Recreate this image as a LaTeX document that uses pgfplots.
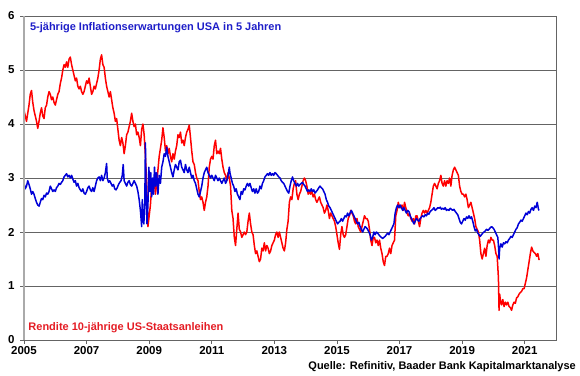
\documentclass[border=0pt]{standalone}
\usepackage{pgfplots}
\pgfplotsset{compat=1.18}
\usepackage{fontspec}
\setmainfont{Liberation Sans}
\definecolor{lred}{RGB}{255,0,0}
\definecolor{lblue}{RGB}{0,0,215}
\definecolor{tred}{RGB}{228,28,36}
\definecolor{tblue}{RGB}{30,30,200}
\definecolor{gridc}{RGB}{100,100,100}
\definecolor{axl}{RGB}{170,170,170}
\begin{document}
\begin{tikzpicture}[x=1pt,y=1pt]
\useasboundingbox (0,0) rectangle (580,375);
\begin{axis}[
  at={(24pt,35pt)}, anchor=origin,
  scale only axis, width=532pt, height=324pt,
  xmin=2005, xmax=2022, ymin=0, ymax=6,
  xtick={2005,2007,...,2021},
  xticklabels={2005,2007,2009,2011,2013,2015,2017,2019,2021},
  ytick={0,1,...,6},
  ymajorgrids, grid style={gridc, line width=0.8pt},
  axis line style={gridc, line width=0.8pt},
  tick style={gridc, line width=0.8pt},
  tick align=outside, major tick length=4pt,
  xtick pos=bottom, ytick pos=left,
  /pgf/number format/assume math mode=true,
  ticklabel style={font=\fontsize{11.5}{13}\selectfont\bfseries},
  xticklabel style={yshift=1pt},
  yticklabel style={xshift=-2pt},
  clip=true,
]
\addplot[lred, line width=1.5pt, line join=round] coordinates {
(2005.00,4.25)(2005.04,4.15)(2005.08,4.05)(2005.12,4.20)(2005.16,4.35)(2005.20,4.55)(2005.24,4.62)(2005.28,4.40)(2005.32,4.25)(2005.36,4.15)
(2005.40,4.05)(2005.44,3.92)(2005.48,4.05)(2005.52,4.20)(2005.56,4.30)(2005.60,4.15)(2005.64,4.10)(2005.68,4.30)(2005.72,4.35)(2005.76,4.50)
(2005.80,4.60)(2005.84,4.55)(2005.88,4.45)(2005.92,4.50)(2005.96,4.40)(2006.00,4.35)(2006.04,4.45)(2006.08,4.55)(2006.12,4.60)(2006.16,4.75)
(2006.20,4.85)(2006.24,5.00)(2006.28,5.10)(2006.32,5.05)(2006.36,5.15)(2006.40,5.05)(2006.44,5.20)(2006.48,5.24)(2006.52,5.10)(2006.56,5.00)
(2006.60,4.90)(2006.64,4.80)(2006.68,4.85)(2006.72,4.70)(2006.76,4.65)(2006.80,4.70)(2006.84,4.60)(2006.88,4.55)(2006.92,4.60)(2006.96,4.70)
(2007.00,4.80)(2007.04,4.75)(2007.08,4.85)(2007.12,4.70)(2007.16,4.55)(2007.20,4.60)(2007.24,4.70)(2007.28,4.65)(2007.32,4.75)(2007.36,4.85)
(2007.40,5.00)(2007.44,5.20)(2007.48,5.28)(2007.52,5.10)(2007.56,5.05)(2007.60,4.85)(2007.64,4.70)(2007.68,4.60)(2007.72,4.50)(2007.76,4.60)
(2007.80,4.45)(2007.84,4.30)(2007.88,4.20)(2007.92,4.05)(2007.96,4.10)(2008.00,3.90)(2008.04,3.70)(2008.08,3.60)(2008.12,3.75)(2008.16,3.65)
(2008.20,3.45)(2008.24,3.60)(2008.28,3.80)(2008.32,3.85)(2008.36,3.95)(2008.40,4.05)(2008.44,4.20)(2008.48,4.05)(2008.52,3.95)(2008.56,4.00)
(2008.60,3.80)(2008.64,3.85)(2008.68,3.75)(2008.72,3.60)(2008.76,3.90)(2008.80,4.00)(2008.84,3.80)(2008.88,3.40)(2008.92,2.90)(2008.96,2.10)
(2009.00,2.30)(2009.04,2.50)(2009.08,2.85)(2009.12,2.75)(2009.16,3.00)(2009.20,2.70)(2009.24,2.90)(2009.28,3.15)(2009.32,3.40)(2009.36,3.55)
(2009.40,3.70)(2009.44,3.93)(2009.48,3.75)(2009.52,3.50)(2009.56,3.60)(2009.60,3.45)(2009.64,3.55)(2009.68,3.40)(2009.72,3.30)(2009.76,3.45)
(2009.80,3.35)(2009.84,3.50)(2009.88,3.60)(2009.92,3.80)(2009.96,3.75)(2010.00,3.85)(2010.04,3.65)(2010.08,3.70)(2010.12,3.60)(2010.16,3.75)
(2010.20,3.85)(2010.24,3.90)(2010.28,3.98)(2010.32,3.75)(2010.36,3.50)(2010.40,3.30)(2010.44,3.25)(2010.48,3.10)(2010.52,3.00)(2010.56,2.95)
(2010.60,2.75)(2010.64,2.60)(2010.68,2.65)(2010.72,2.55)(2010.76,2.40)(2010.80,2.55)(2010.84,2.65)(2010.88,2.85)(2010.92,3.20)(2010.96,3.35)
(2011.00,3.40)(2011.04,3.35)(2011.08,3.60)(2011.12,3.70)(2011.16,3.45)(2011.20,3.50)(2011.24,3.45)(2011.28,3.55)(2011.32,3.35)(2011.36,3.20)
(2011.40,3.10)(2011.44,3.05)(2011.48,2.95)(2011.52,3.10)(2011.56,3.00)(2011.60,2.85)(2011.64,2.40)(2011.68,2.25)(2011.72,1.90)(2011.76,1.75)
(2011.80,2.05)(2011.84,2.35)(2011.88,2.05)(2011.92,2.00)(2011.96,1.90)(2012.00,1.95)(2012.04,2.00)(2012.08,1.95)(2012.12,2.00)(2012.16,2.20)
(2012.20,2.35)(2012.24,2.15)(2012.28,2.00)(2012.32,1.95)(2012.36,1.75)(2012.40,1.60)(2012.44,1.65)(2012.48,1.55)(2012.52,1.45)(2012.56,1.50)
(2012.60,1.70)(2012.64,1.65)(2012.68,1.80)(2012.72,1.65)(2012.76,1.75)(2012.80,1.70)(2012.84,1.60)(2012.88,1.65)(2012.92,1.75)(2012.96,1.80)
(2013.00,1.85)(2013.04,1.95)(2013.08,2.00)(2013.12,1.90)(2013.16,2.00)(2013.20,1.90)(2013.24,1.80)(2013.28,1.70)(2013.32,1.65)(2013.36,1.80)
(2013.40,2.05)(2013.44,2.20)(2013.48,2.55)(2013.52,2.65)(2013.56,2.60)(2013.60,2.80)(2013.64,2.90)(2013.68,2.95)(2013.72,2.70)(2013.76,2.60)
(2013.80,2.70)(2013.84,2.75)(2013.88,2.85)(2013.92,2.95)(2013.96,3.00)(2014.00,2.95)(2014.04,2.85)(2014.08,2.70)(2014.12,2.75)(2014.16,2.70)
(2014.20,2.75)(2014.24,2.65)(2014.28,2.70)(2014.32,2.60)(2014.36,2.55)(2014.40,2.60)(2014.44,2.65)(2014.48,2.55)(2014.52,2.50)(2014.56,2.45)
(2014.60,2.35)(2014.64,2.40)(2014.68,2.50)(2014.72,2.40)(2014.76,2.25)(2014.80,2.35)(2014.84,2.30)(2014.88,2.25)(2014.92,2.20)(2014.96,2.10)
(2015.00,1.95)(2015.04,1.80)(2015.08,1.68)(2015.12,1.95)(2015.16,2.10)(2015.20,1.95)(2015.24,1.90)(2015.28,1.95)(2015.32,2.10)(2015.36,2.25)
(2015.40,2.30)(2015.44,2.40)(2015.48,2.35)(2015.52,2.30)(2015.56,2.20)(2015.60,2.15)(2015.64,2.25)(2015.68,2.10)(2015.72,2.05)(2015.76,2.00)
(2015.80,2.10)(2015.84,2.20)(2015.88,2.30)(2015.92,2.25)(2015.96,2.25)(2016.00,2.20)(2016.04,2.05)(2016.08,1.85)(2016.12,1.75)(2016.16,1.90)
(2016.20,1.90)(2016.24,1.80)(2016.28,1.85)(2016.32,1.75)(2016.36,1.85)(2016.40,1.70)(2016.44,1.60)(2016.48,1.45)(2016.52,1.38)(2016.56,1.55)
(2016.60,1.55)(2016.64,1.60)(2016.68,1.70)(2016.72,1.60)(2016.76,1.75)(2016.80,1.80)(2016.84,1.85)(2016.88,2.30)(2016.92,2.40)(2016.96,2.55)
(2017.00,2.45)(2017.04,2.45)(2017.08,2.50)(2017.12,2.40)(2017.16,2.55)(2017.20,2.45)(2017.24,2.35)(2017.28,2.30)(2017.32,2.35)(2017.36,2.25)
(2017.40,2.20)(2017.44,2.25)(2017.48,2.15)(2017.52,2.30)(2017.56,2.30)(2017.60,2.20)(2017.64,2.10)(2017.68,2.25)(2017.72,2.35)(2017.76,2.40)
(2017.80,2.35)(2017.84,2.40)(2017.88,2.35)(2017.92,2.40)(2017.96,2.45)(2018.00,2.55)(2018.04,2.70)(2018.08,2.85)(2018.12,2.90)(2018.16,2.85)
(2018.20,2.80)(2018.24,2.90)(2018.28,2.95)(2018.32,3.05)(2018.36,2.90)(2018.40,2.85)(2018.44,2.95)(2018.48,2.85)(2018.52,2.95)(2018.56,2.90)
(2018.60,3.00)(2018.64,2.85)(2018.68,3.05)(2018.72,3.15)(2018.76,3.20)(2018.80,3.15)(2018.84,3.10)(2018.88,3.05)(2018.92,2.85)(2018.96,2.75)
(2019.00,2.70)(2019.04,2.70)(2019.08,2.65)(2019.12,2.70)(2019.16,2.60)(2019.20,2.45)(2019.24,2.50)(2019.28,2.55)(2019.32,2.45)(2019.36,2.35)
(2019.40,2.25)(2019.44,2.10)(2019.48,2.05)(2019.52,2.00)(2019.56,1.85)(2019.60,1.60)(2019.64,1.50)(2019.68,1.60)(2019.72,1.70)(2019.76,1.55)
(2019.80,1.75)(2019.84,1.85)(2019.88,1.80)(2019.92,1.90)(2019.96,1.85)(2020.00,1.85)(2020.04,1.75)(2020.08,1.60)(2020.12,1.55)(2020.16,1.15)
(2020.18,0.55)(2020.20,0.85)(2020.22,0.75)(2020.26,0.65)(2020.30,0.75)(2020.34,0.62)(2020.38,0.70)(2020.42,0.65)(2020.46,0.70)(2020.50,0.62)
(2020.54,0.60)(2020.58,0.55)(2020.62,0.65)(2020.66,0.70)(2020.70,0.68)(2020.74,0.78)(2020.78,0.80)(2020.82,0.85)(2020.86,0.88)(2020.90,0.90)
(2020.94,0.95)(2020.98,0.95)(2021.02,1.05)(2021.06,1.15)(2021.10,1.30)(2021.14,1.45)(2021.18,1.60)(2021.22,1.72)(2021.26,1.65)(2021.30,1.62)
(2021.34,1.60)(2021.38,1.55)(2021.42,1.60)(2021.46,1.48)
};
\addplot[lblue, line width=1.5pt, line join=round] coordinates {
(2005.00,2.90)(2005.04,2.80)(2005.08,2.85)(2005.12,2.95)(2005.16,2.88)(2005.20,2.80)(2005.24,2.70)(2005.28,2.75)(2005.32,2.70)(2005.36,2.62)
(2005.40,2.55)(2005.44,2.50)(2005.48,2.48)(2005.52,2.55)(2005.56,2.62)(2005.60,2.60)(2005.64,2.68)(2005.68,2.65)(2005.72,2.72)(2005.76,2.70)
(2005.80,2.75)(2005.84,2.85)(2005.88,2.80)(2005.92,2.75)(2005.96,2.78)(2006.00,2.75)(2006.04,2.82)(2006.08,2.85)(2006.12,2.90)(2006.16,2.88)
(2006.20,2.92)(2006.24,2.95)(2006.28,3.02)(2006.32,3.05)(2006.36,3.08)(2006.40,3.02)(2006.44,3.05)(2006.48,3.00)(2006.52,3.05)(2006.56,2.98)
(2006.60,2.92)(2006.64,2.95)(2006.68,2.85)(2006.72,2.90)(2006.76,2.82)(2006.80,2.78)(2006.84,2.75)(2006.88,2.80)(2006.92,2.72)(2006.96,2.70)
(2007.00,2.75)(2007.04,2.82)(2007.08,2.85)(2007.12,2.78)(2007.16,2.75)(2007.20,2.82)(2007.24,2.75)(2007.28,2.85)(2007.32,2.95)(2007.36,3.00)
(2007.40,3.02)(2007.44,2.95)(2007.48,3.05)(2007.52,2.95)(2007.56,3.00)(2007.60,3.10)(2007.64,3.27)(2007.66,3.00)(2007.70,2.92)(2007.74,2.95)
(2007.78,2.90)(2007.82,2.85)(2007.86,2.88)(2007.90,2.80)(2007.94,2.78)(2007.98,2.82)(2008.02,2.88)(2008.06,2.92)(2008.10,2.95)(2008.14,3.05)
(2008.17,3.25)(2008.20,2.95)(2008.24,2.90)(2008.28,2.85)(2008.32,2.92)(2008.36,2.95)(2008.40,2.88)(2008.44,2.85)(2008.48,2.90)(2008.52,2.95)
(2008.56,2.90)(2008.60,2.85)(2008.64,2.75)(2008.68,2.60)(2008.72,2.40)(2008.76,2.10)(2008.78,2.60)(2008.80,2.35)(2008.83,2.15)(2008.86,2.55)
(2008.88,3.65)(2008.90,2.80)(2008.93,2.15)(2008.96,2.50)(2008.99,3.20)(2009.02,2.75)(2009.05,3.10)(2009.08,2.65)(2009.11,3.00)(2009.14,2.70)
(2009.17,3.20)(2009.20,2.85)(2009.24,3.10)(2009.28,2.70)(2009.32,3.05)(2009.36,2.90)(2009.40,3.20)(2009.44,3.30)(2009.48,3.45)(2009.52,3.40)
(2009.56,3.57)(2009.60,3.40)(2009.64,3.30)(2009.68,3.20)(2009.72,3.10)(2009.76,3.02)(2009.80,3.15)(2009.84,3.25)(2009.88,3.20)(2009.92,3.15)
(2009.96,3.30)(2010.00,3.33)(2010.04,3.20)(2010.08,3.15)(2010.12,3.10)(2010.16,3.25)(2010.20,3.15)(2010.24,3.10)(2010.28,3.20)(2010.32,3.10)
(2010.36,3.00)(2010.40,3.05)(2010.44,2.95)(2010.48,2.90)(2010.52,2.80)(2010.56,2.70)(2010.60,2.65)(2010.64,2.75)(2010.68,2.85)(2010.72,3.00)
(2010.76,3.10)(2010.80,3.15)(2010.84,3.20)(2010.88,3.10)(2010.92,3.05)(2010.96,3.00)(2011.00,3.05)(2011.04,3.00)(2011.08,2.95)(2011.12,3.05)
(2011.16,3.00)(2011.20,2.95)(2011.24,3.00)(2011.28,2.95)(2011.32,2.90)(2011.36,2.95)(2011.40,3.00)(2011.44,2.90)(2011.48,2.95)(2011.52,3.05)
(2011.56,3.20)(2011.58,3.10)(2011.62,3.00)(2011.66,2.90)(2011.70,2.85)(2011.74,2.75)(2011.78,2.80)(2011.82,2.70)(2011.86,2.65)(2011.90,2.60)
(2011.94,2.75)(2011.98,2.70)(2012.02,2.80)(2012.06,2.78)(2012.10,2.85)(2012.14,2.90)(2012.18,2.85)(2012.22,2.90)(2012.26,2.82)(2012.30,2.75)
(2012.34,2.80)(2012.38,2.72)(2012.42,2.80)(2012.46,2.72)(2012.50,2.75)(2012.54,2.85)(2012.58,2.80)(2012.62,2.90)(2012.66,2.95)(2012.70,3.02)
(2012.74,3.05)(2012.78,3.08)(2012.82,3.05)(2012.86,3.10)(2012.90,3.05)(2012.94,3.08)(2012.98,3.05)(2013.02,3.10)(2013.06,3.08)(2013.10,3.05)
(2013.14,3.02)(2013.18,3.00)(2013.22,2.95)(2013.26,2.92)(2013.30,2.90)(2013.34,2.85)(2013.38,2.80)(2013.42,2.75)(2013.46,2.72)(2013.50,2.85)
(2013.54,2.95)(2013.58,3.02)(2013.62,2.95)(2013.66,2.90)(2013.70,2.85)(2013.74,2.90)(2013.78,2.85)(2013.82,2.88)(2013.86,2.90)(2013.90,2.92)
(2013.94,2.88)(2013.98,2.85)(2014.02,2.80)(2014.06,2.75)(2014.10,2.78)(2014.14,2.75)(2014.18,2.80)(2014.22,2.75)(2014.26,2.78)(2014.30,2.72)
(2014.34,2.75)(2014.38,2.78)(2014.42,2.82)(2014.46,2.85)(2014.50,2.82)(2014.54,2.80)(2014.58,2.75)(2014.62,2.70)(2014.66,2.60)(2014.70,2.55)
(2014.74,2.48)(2014.78,2.45)(2014.82,2.40)(2014.86,2.35)(2014.90,2.30)(2014.94,2.25)(2014.98,2.20)(2015.02,2.15)(2015.06,2.18)(2015.10,2.20)
(2015.14,2.25)(2015.18,2.20)(2015.22,2.25)(2015.26,2.30)(2015.30,2.28)(2015.34,2.35)(2015.38,2.30)(2015.42,2.35)(2015.46,2.40)(2015.50,2.35)
(2015.54,2.30)(2015.58,2.25)(2015.62,2.20)(2015.66,2.15)(2015.70,2.18)(2015.74,2.10)(2015.78,2.05)(2015.82,2.00)(2015.86,2.05)(2015.90,2.10)
(2015.94,2.08)(2015.98,2.05)(2016.02,2.00)(2016.06,1.95)(2016.10,1.85)(2016.14,1.90)(2016.18,2.00)(2016.22,1.95)(2016.26,2.00)(2016.30,1.98)
(2016.34,1.95)(2016.38,1.92)(2016.42,1.90)(2016.46,1.88)(2016.50,1.90)(2016.54,1.92)(2016.58,1.95)(2016.62,1.98)(2016.66,1.95)(2016.70,2.00)
(2016.74,2.05)(2016.78,2.10)(2016.82,2.15)(2016.86,2.35)(2016.90,2.45)(2016.94,2.50)(2016.98,2.45)(2017.02,2.50)(2017.06,2.45)(2017.10,2.40)
(2017.14,2.45)(2017.18,2.40)(2017.22,2.35)(2017.26,2.40)(2017.30,2.38)(2017.34,2.30)(2017.38,2.25)(2017.42,2.20)(2017.46,2.15)(2017.50,2.20)
(2017.54,2.25)(2017.58,2.22)(2017.62,2.20)(2017.66,2.25)(2017.70,2.28)(2017.74,2.30)(2017.78,2.28)(2017.82,2.32)(2017.86,2.30)(2017.90,2.35)
(2017.94,2.33)(2017.98,2.38)(2018.02,2.40)(2018.06,2.42)(2018.10,2.45)(2018.14,2.40)(2018.18,2.42)(2018.22,2.45)(2018.26,2.44)(2018.30,2.46)
(2018.34,2.42)(2018.38,2.44)(2018.42,2.42)(2018.46,2.45)(2018.50,2.40)(2018.54,2.42)(2018.58,2.40)(2018.62,2.44)(2018.66,2.42)(2018.70,2.40)
(2018.74,2.42)(2018.78,2.38)(2018.82,2.35)(2018.86,2.32)(2018.90,2.25)(2018.94,2.18)(2018.98,2.15)(2019.02,2.20)(2019.06,2.25)(2019.10,2.22)
(2019.14,2.28)(2019.18,2.25)(2019.22,2.30)(2019.26,2.25)(2019.30,2.28)(2019.34,2.20)(2019.38,2.10)(2019.42,2.02)(2019.46,2.05)(2019.50,1.98)
(2019.54,1.95)(2019.58,1.92)(2019.62,1.95)(2019.66,1.98)(2019.70,2.00)(2019.74,2.02)(2019.78,2.05)(2019.82,2.03)(2019.86,2.05)(2019.90,2.08)
(2019.94,2.10)(2019.98,2.08)(2020.02,2.05)(2020.06,2.00)(2020.10,1.95)(2020.14,1.90)(2020.16,1.75)(2020.18,1.50)(2020.20,1.70)(2020.24,1.78)
(2020.28,1.72)(2020.32,1.80)(2020.36,1.78)(2020.40,1.82)(2020.44,1.80)(2020.48,1.85)(2020.52,1.88)(2020.56,1.92)(2020.60,1.90)(2020.64,1.95)
(2020.68,2.00)(2020.72,2.05)(2020.76,2.08)(2020.80,2.15)(2020.84,2.18)(2020.88,2.22)(2020.92,2.20)(2020.96,2.25)(2021.00,2.30)(2021.04,2.35)
(2021.08,2.32)(2021.12,2.38)(2021.16,2.35)(2021.20,2.42)(2021.24,2.45)(2021.28,2.40)(2021.32,2.48)(2021.36,2.45)(2021.40,2.55)(2021.44,2.42)
(2021.46,2.40)
};
\node[anchor=west, text=tblue, font=\fontsize{11}{13}\selectfont\bfseries, inner sep=0pt] at (rel axis cs:0.011,0.963) {5-jährige Inflationserwartungen USA in 5 Jahren};
\node[anchor=west, text=tred, font=\fontsize{11}{13}\selectfont\bfseries, inner sep=0pt] at (rel axis cs:0.008,0.037) {Rendite 10-jährige US-Staatsanleihen};
\end{axis}
\draw[axl, line width=1.6pt] (24,35) -- (24,359);
\node[anchor=east, font=\fontsize{11}{13}\selectfont\bfseries, inner sep=0pt] at (576,8) {Quelle: Refinitiv, Baader Bank Kapitalmarktanalyse};
\end{tikzpicture}
\end{document}
